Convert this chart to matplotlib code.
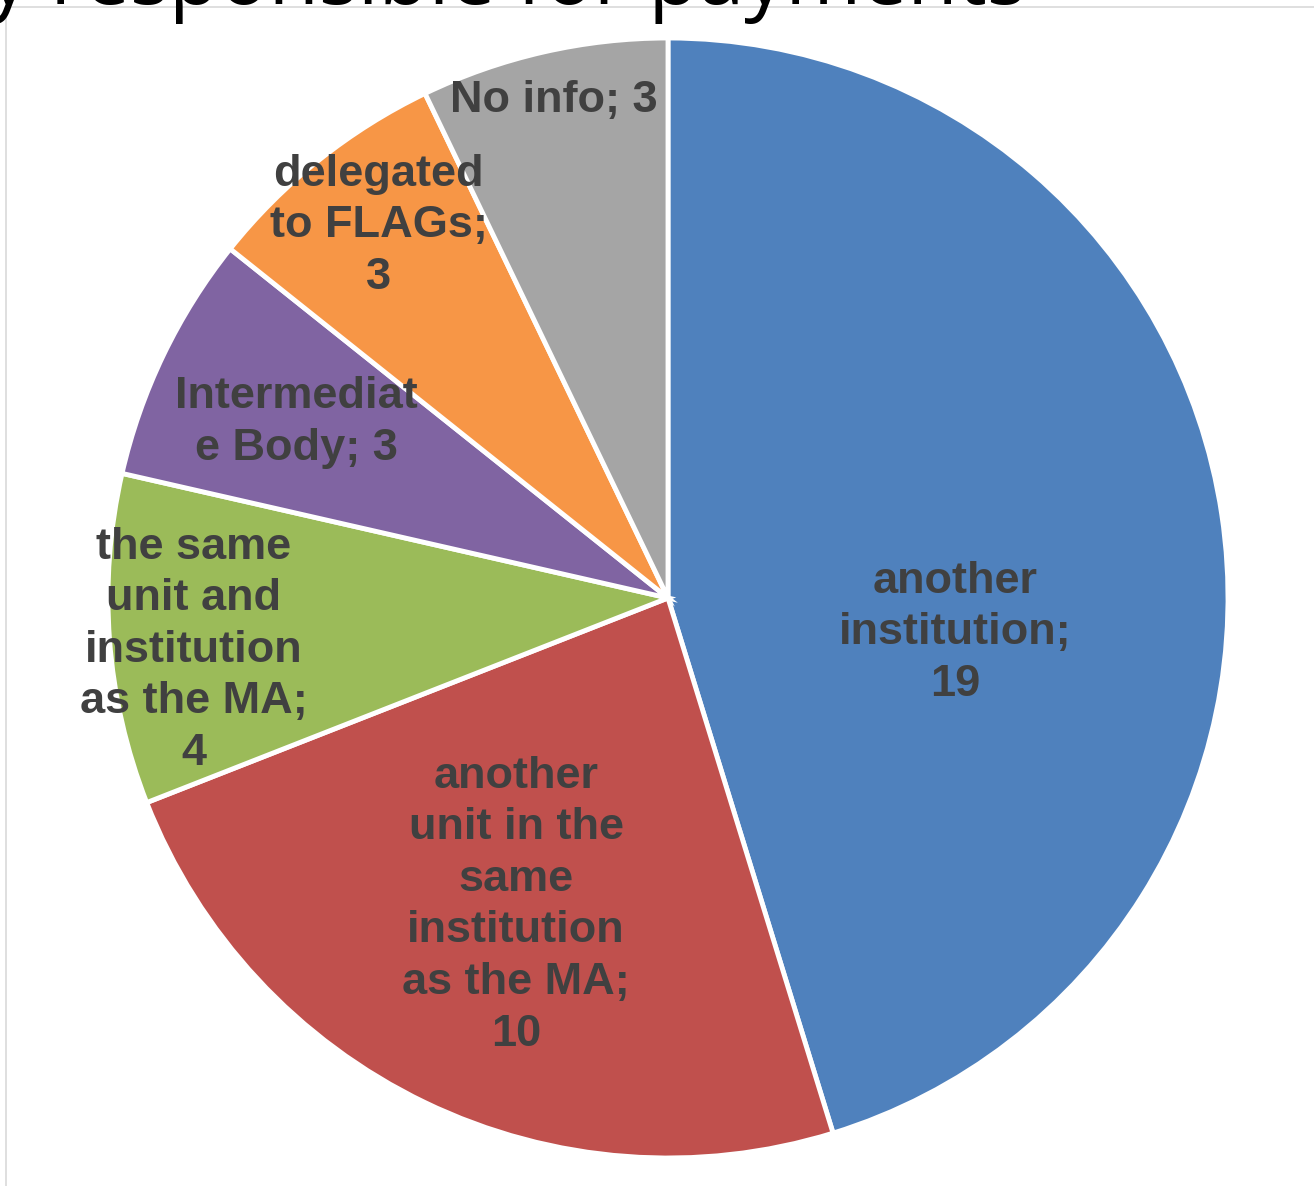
import matplotlib
matplotlib.use("Agg")
import matplotlib.pyplot as plt
from matplotlib.lines import Line2D
import numpy as np

# ---- data ----
categories = ["another institution",
              "another unit in the same institution as the MA",
              "the same unit and institution as the MA",
              "Intermediate Body",
              "delegated to FLAGs",
              "No info"]
values = [19, 10, 4, 3, 3, 3]
labels = ["another\ninstitution;\n19",
          "another\nunit in the\nsame\ninstitution\nas the MA;\n10",
          "the same\nunit and\ninstitution\nas the MA;\n4",
          "Intermediat\ne Body; 3",
          "delegated\nto FLAGs;\n3",
          "No info; 3"]
colors = ["#4F81BD", "#C0504D", "#9BBB59", "#8064A2", "#F79646", "#A5A5A5"]
title_text = "y responsible for payments"

# ---- layout / style ----
W, H = 1314, 1186
fig = plt.figure(figsize=(W / 100, H / 100), dpi=100)
ax = fig.add_axes([0, 0, 1, 1])

cx, cy, R = 668, H - 598, 560
wedges, _ = ax.pie(values, colors=colors, startangle=90, counterclock=False,
                   center=(cx, cy), radius=R,
                   wedgeprops=dict(edgecolor="white", linewidth=3.5))
ax.set_xlim(0, W)
ax.set_ylim(0, H)
ax.set_aspect("equal")
ax.axis("off")

label_dist = [0.516, 0.612, 0.852, 0.734, 0.842, 0.911]
angle_off = [-15.5, -0.6, 2.0, 0.4, -0.7, 0.1]
for w, lab, d, off in zip(wedges, labels, label_dist, angle_off):
    mid = np.deg2rad((w.theta1 + w.theta2) / 2 + off)
    ax.text(cx + d * R * np.cos(mid), cy + d * R * np.sin(mid), lab,
            ha="center", va="center", multialignment="center",
            fontsize=32.5, fontweight="bold", color="#404040",
            family="Liberation Sans", linespacing=1.33)

# chart border (partly visible)
fig.add_artist(Line2D([6 / W, 1], [1 - 6.5 / H, 1 - 6.5 / H],
                      transform=fig.transFigure, color="#d9d9d9", lw=1.2))
fig.add_artist(Line2D([6 / W, 6 / W], [0, 1 - 6.5 / H],
                      transform=fig.transFigure, color="#d9d9d9", lw=1.2))

# cropped title (cut off at the top edge, as in the reference)
fig.text(-12 / W, 1 - 4 / H, title_text, ha="left", va="baseline",
         fontsize=59, family="Open Sans", color="black")

fig.savefig("out.png", dpi=100)
